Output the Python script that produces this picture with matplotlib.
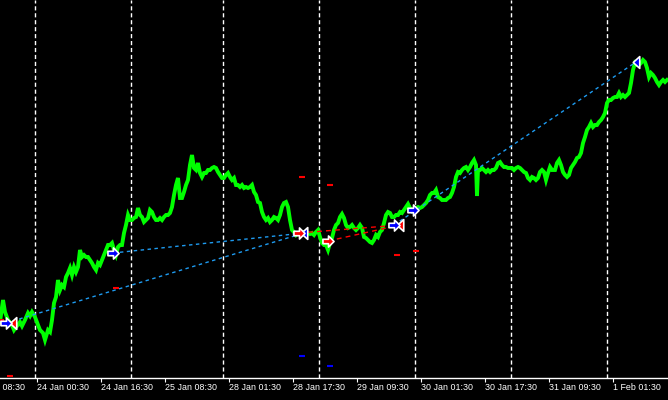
import matplotlib
matplotlib.use("Agg")
import matplotlib.pyplot as plt
from matplotlib.path import Path

# ---------------- data (x = bar index, y = price level in chart pixels, top = high) -------------
bar_x = [0, 3, 5, 8, 12, 14, 16, 18, 20, 22, 25, 28, 30, 32, 35, 38, 40, 43, 45, 48, 50, 52, 54, 56,
         58, 60, 62, 64, 66, 68, 70, 72, 74, 76, 78, 80, 82, 84, 86, 88, 90, 92, 94, 96, 98, 100, 102,
         104, 106, 108, 110,
         112, 114, 116, 118, 120, 122, 124, 126, 128, 130, 132, 134, 136, 138, 140, 142, 144, 146, 148,
         150, 152, 154, 156, 158, 160, 162, 164, 166, 168, 170, 172, 174, 176, 178, 180, 182, 184, 186,
         188, 190, 192, 194, 196, 198, 200, 202, 204, 206, 208, 210, 212, 214, 216, 218, 220, 222,
         224, 226, 228, 230, 232, 234, 236, 238, 240, 242, 244, 246, 248, 250, 252, 254, 256, 258, 260,
         262, 264, 266, 268, 270, 272, 274, 276, 278, 280, 282, 284, 286, 288, 290, 292, 294, 296, 298,
         302, 306, 310, 312, 314, 316, 318, 320, 322, 324, 326, 328, 330, 332,
         334, 336, 338, 340, 342, 344, 346, 348, 350, 352, 354, 356, 358, 360, 362, 364, 366, 368, 370,
         372, 374, 376, 378, 380, 382, 384, 386, 388, 390, 392, 394, 396, 398, 400, 402, 404, 406, 408,
         410, 412, 414, 416, 418, 420, 422, 424, 426, 428, 430, 432, 434, 436, 438, 440,
         442, 444, 446, 448, 450, 452, 454, 456, 458, 460, 462, 464, 466, 468, 470, 472, 474, 476, 477,
         478, 480, 482, 484, 486, 488, 490, 492, 494, 496, 498, 500, 502, 504, 506, 508, 510, 512, 514,
         516, 518, 520, 522, 524, 526, 528, 530, 532, 534, 536, 538, 540, 542, 544, 546, 548, 550, 552,
         555, 557, 559, 561, 563, 565, 567, 569, 571, 573, 575, 577, 579, 581, 583, 585, 587, 589, 591,
         593, 595, 597, 599, 601, 603, 605, 607, 609, 611, 613, 615, 617, 619, 621, 623, 625, 627, 629,
         631, 633, 635, 637, 639, 641, 643, 645, 647, 649, 651, 653, 655, 657, 659, 661, 663, 665, 667]
price_px = [322, 300, 312, 320, 325, 330, 327, 325, 322, 326, 320, 313, 316, 312, 317, 325, 330, 333,
            340, 330, 332, 320, 303, 297, 280, 290, 285, 287, 277, 273, 268, 275, 267, 272, 267, 250,
            257, 255, 257, 257, 260, 263, 267, 270, 263, 265, 260, 255, 250, 245, 245,
            243, 250, 255, 247, 245, 245, 233, 225, 215, 220, 220, 218, 217, 208, 215, 217, 222, 220,
            218, 210, 212, 217, 220, 220, 218, 220, 217, 215, 215, 213, 207, 195, 185, 178, 198, 198,
            192, 185, 180, 165, 155, 168, 170, 163, 173, 177, 173, 173, 170, 170, 168, 167, 168, 172,
            175, 178,
            178, 175, 173, 177, 180, 178, 185, 185, 187, 185, 188, 187, 188, 187, 185, 192, 195, 202,
            203, 212, 217, 220, 218, 222, 220, 217, 218, 220, 215, 207, 203, 202, 207, 220, 230, 232,
            235, 233, 232, 232, 234, 233, 235, 232, 230, 237, 243, 245, 245, 250, 243, 238,
            230, 225, 223, 217, 214, 218, 225, 228, 227, 225, 228, 230, 228, 225, 228, 237, 238, 240,
            242, 243, 240, 235, 237, 232, 230, 223, 215, 212, 213, 217, 217, 215, 215, 212, 213, 210,
            207, 204, 208, 210, 210, 208, 207, 208, 207, 205, 203, 200, 195, 193, 193, 190, 197, 198,
            200, 200, 200, 198, 197, 193, 187, 177, 172, 173, 170, 168, 167, 170, 167, 163, 160, 165,
            196, 170, 170, 168, 170, 172, 170, 172, 170, 170, 168, 163, 162, 165, 167, 167, 168, 168,
            168, 170, 168, 167, 168, 170, 172, 173, 178, 180, 177, 178, 180, 178, 172, 170, 172, 180,
            173, 167, 170,
            170, 163, 160, 165, 172, 175, 177, 175, 168, 165, 162, 158, 157, 153, 143, 137, 130, 127,
            123, 127, 125, 125, 122, 120, 117, 113, 103, 100, 100, 98, 97, 97, 93, 97, 95, 97, 95, 93,
            83, 70, 63, 65, 65, 63, 60, 62, 68, 77, 73, 75, 78, 82, 85, 82, 80, 82, 80]

# time axis
tick_bars = [-27, 37, 101, 165, 229, 293, 357, 421, 485, 549, 613]
tick_labels = ["23 Jan 08:30", "24 Jan 00:30", "24 Jan 16:30", "25 Jan 08:30", "28 Jan 01:30",
               "28 Jan 17:30", "29 Jan 09:30", "30 Jan 01:30", "30 Jan 17:30", "31 Jan 09:30",
               "1 Feb 01:30"]
day_sep_bars = [35, 131, 223, 319, 415, 511, 607]

# trades: open arrows and close triangles
arrow_x = [6, 113, 299, 328, 394, 413]
arrow_y = [323, 253, 233, 241, 225, 210]
arrow_col = ["blue", "blue", "red", "red", "blue", "blue"]
close_x = [13, 304, 400, 636]
close_y = [323, 233, 225, 62]
close_col = ["red", "blue", "red", "blue"]

# trade connection lines (open -> close)
buy_lines = [((6, 323), (304, 233)), ((113, 253), (304, 233)), ((394, 225), (636, 62))]
sell_lines = [((299, 233), (400, 225)), ((328, 241), (400, 225))]

# stop / take-profit level marks
red_lvl_x = [1, 10, 116, 302, 330, 397, 416]
red_lvl_y = [320, 376, 288, 177, 185, 255, 251]
blue_lvl_x = [302, 330]
blue_lvl_y = [356, 366]

# ---------------- figure ----------------
W, H = 668, 400
AX_H = 378
fig = plt.figure(figsize=(W / 100, H / 100), dpi=100, facecolor="black")
ax = fig.add_axes([0, (H - AX_H) / H, 1, AX_H / H])
ax.set_facecolor("black")
ax.set_xlim(0, W)
ax.set_ylim(AX_H, 0)

for s in ["top", "left", "right"]:
    ax.spines[s].set_visible(False)
ax.spines["bottom"].set_color("white")
ax.spines["bottom"].set_linewidth(1.0)
ax.set_yticks([])
ax.set_xticks([t for t in tick_bars if t >= 0])
ax.set_xticklabels([])
ax.tick_params(axis="x", colors="white", length=3, width=0.8, direction="out")

for xb, lab in zip(tick_bars, tick_labels):
    ax.text(xb, AX_H + 5, lab, color="white", fontsize=6.4,
            family="Liberation Sans",
            ha="left", va="top", clip_on=False)

for xs in day_sep_bars:
    ax.axvline(xs, color="white", lw=1.0, ls=(0, (3, 2)), zorder=1)

# price
ax.plot(bar_x, price_px, color="#00FF00", lw=2.8, solid_joinstyle="miter", zorder=2)

# trade lines
for (p0, p1) in buy_lines:
    ax.plot([p0[0], p1[0]], [p0[1], p1[1]], color="#1E9BF0", lw=1.0, ls=(0, (2.5, 2.5)), zorder=3)
for (p0, p1) in sell_lines:
    ax.plot([p0[0], p1[0]], [p0[1], p1[1]], color="red", lw=1.0, ls=(0, (3.5, 3)), zorder=3)

# level marks
ax.plot(red_lvl_x, red_lvl_y, ls="none", marker="_", color="red", ms=5, mew=1.5, zorder=4)
ax.plot(blue_lvl_x, blue_lvl_y, ls="none", marker="_", color="blue", ms=5, mew=1.5, zorder=4)

# markers
arrow_path = Path([(-1, -0.4), (0, -0.4), (0, -1), (1, 0), (0, 1), (0, 0.4), (-1, 0.4), (-1, -0.4)],
                  [Path.MOVETO] + [Path.LINETO] * 6 + [Path.CLOSEPOLY])
tri_path = Path([(0.55, -1), (0.55, 1), (-0.55, 0), (0.55, -1)],
                [Path.MOVETO, Path.LINETO, Path.LINETO, Path.CLOSEPOLY])
for x, y, c in zip(close_x, close_y, close_col):
    ax.plot([x], [y], marker=tri_path, ms=8.5, mfc=c, mec="white", mew=1.2, ls="none", zorder=5)
for x, y, c in zip(arrow_x, arrow_y, arrow_col):
    ax.plot([x], [y], marker=arrow_path, ms=8, mfc=c, mec="white", mew=1.2, ls="none", zorder=6)

fig.savefig("out.png", dpi=100, facecolor="black")
